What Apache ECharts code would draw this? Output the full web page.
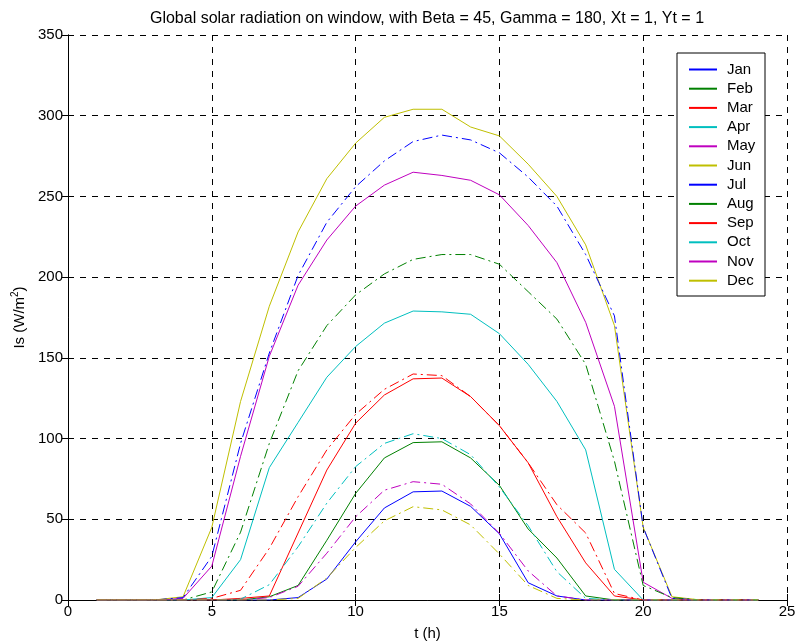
<!DOCTYPE html>
<html>
<head>
<meta charset="utf-8">
<script src="https://cdn.jsdelivr.net/npm/echarts@6/dist/echarts.min.js"></script>
<style>html,body{margin:0;padding:0;background:#fff}#c{width:795px;height:643px}</style>
</head>
<body>
<div id="c"></div>
<script>
var hours = [1,2,3,4,5,6,7,8,9,10,11,12,13,14,15,16,17,18,19,20,21,22,23,24];
var months = ['Jan','Feb','Mar','Apr','May','Jun','Jul','Aug','Sep','Oct','Nov','Dec'];
var Jan = [0,0,0,0,0,0,0,1.5,13,36,57,67,67.5,58,41,10.7,2.5,0,0,0,0,0,0,0];
var Feb = [0,0,0,0,0,0,2,9,37,66,88,97.5,98,88,71,44,26,2.5,0,0,0,0,0,0];
var Mar = [0,0,0,0,0,1,2.5,41.5,80.5,109.5,127,137,137.5,126,108,85,51.6,23,2.5,0,0,0,0,0];
var Apr = [0,0,0,0,1.5,25,82,110,138,157,171.5,179,178.5,177,165,146,123,93,19,0,0,0,0,0];
var May = [0,0,0,1,21,89,151,195,223,244,257,265,263,260,251,232,209,172,120,11,1,0,0,0];
var Jun = [0,0,0,2,45,123,182,228,261,283,299,304,304,293,287.5,270,250,220,170,45,2,0,0,0];
var Jul = [0,0,0,1.5,27,97,153,201,234,256,272,284,288,285,277,262,244,214,176,45,1,0,0,0];
var Aug = [0,0,0,0,5,42,97,142,170,189,202,211,214,214,208,191,174,146,86,9,1.5,0,0,0];
var Sep = [0,0,0,0,1,6,32,64,93,115,130.5,140,139,126,108,85,59,41.5,4,0,0,0,0,0];
var Oct = [0,0,0,0,0,0.5,9.5,33,60,82.6,97,103,100,90,70,46,17.5,1,0,0,0,0,0,0];
var Nov = [0,0,0,0,0,0,1.5,8.5,29,51.5,68,73.3,71.7,59.5,41.3,18,2.5,0,0,0,0,0,0,0];
var Dec = [0,0,0,0,0,0,0,1,13.6,32.5,49,57.8,55.8,46.5,28.5,9,1,0,0,0,0,0,0,0];
var values = [Jan,Feb,Mar,Apr,May,Jun,Jul,Aug,Sep,Oct,Nov,Dec];
var xTicks = [0,5,10,15,20,25];
var yTicks = [0,50,100,150,200,250,300,350];

var colors = ['#0000ff','#008000','#ff0000','#00bfbf','#bf00bf','#bfbf00'];
var FONT = 'Liberation Sans, Arial, sans-serif';

var series = months.map(function(m, i){
  return {
    name: m, type: 'line', showSymbol: false, symbol: 'none', animation: false,
    data: hours.map(function(h, k){ return [h, values[i][k]]; }),
    lineStyle: { color: colors[i % 6], width: 1, type: i < 6 ? 'solid' : [10,4,2,4] },
    itemStyle: { color: colors[i % 6] }
  };
});

var gridLine = { show: true, lineStyle: { color: '#000', type: [6,6], width: 1 } };
var axisLine = { show: true, lineStyle: { color: '#000', width: 1 } };
var tick = { show: true, inside: true, length: 6, lineStyle: { color: '#000' } };

var chart = echarts.init(document.getElementById('c'));
chart.setOption({
  animation: false,
  backgroundColor: '#fff',
  title: {
    text: 'Global solar radiation on window, with Beta = 45, Gamma = 180, Xt = 1, Yt = 1',
    left: 422, top: 6, textAlign: 'center',
    textStyle: { fontFamily: FONT, fontSize: 16, fontWeight: 'normal', color: '#000' }
  },
  grid: { left: 68, right: 8, top: 35, bottom: 43, containLabel: false, outerBoundsMode: 'none' },
  xAxis: [{
    type: 'value', min: 0, max: 25, interval: 5,
    axisLine: axisLine, axisTick: tick, splitLine: gridLine,
    axisLabel: { color: '#000', fontFamily: FONT, fontSize: 15, margin: 4 },
    name: 't (h)', nameLocation: 'middle', nameGap: 26,
    nameTextStyle: { color: '#000', fontFamily: FONT, fontSize: 15 }
  }, {
    type: 'value', position: 'top', min: 0, max: 25, interval: 5,
    axisLine: axisLine, axisTick: tick, splitLine: { show: false }, axisLabel: { show: false }
  }],
  yAxis: [{
    type: 'value', min: 0, max: 350, interval: 50,
    axisLine: axisLine, axisTick: tick, splitLine: gridLine,
    axisLabel: { color: '#000', fontFamily: FONT, fontSize: 15, margin: 5 },
    name: '{a|Is (W/m}{b|2}{a|)}', nameLocation: 'middle', nameGap: 37, nameRotate: 90,
    nameTextStyle: {
      color: '#000', fontFamily: FONT, fontSize: 15,
      rich: {
        a: { fontFamily: FONT, fontSize: 15, color: '#000' },
        b: { fontFamily: FONT, fontSize: 10, color: '#000', padding: [0,0,8,0] }
      }
    }
  }, {
    type: 'value', position: 'right', min: 0, max: 350, interval: 50,
    axisLine: axisLine, axisTick: tick, splitLine: { show: false }, axisLabel: { show: false }
  }],
  legend: {
    orient: 'vertical', left: 688, top: 62, padding: 0,
    itemWidth: 28, itemHeight: 14, itemGap: 4.2,
    itemStyle: { opacity: 0 },
    data: months.map(function(m){ return { name: m, lineStyle: { type: 'solid' } }; }),
    textStyle: { fontFamily: FONT, fontSize: 15, lineHeight: 15, color: '#000', padding: [0,0,0,5] }
  },
  graphic: [{
    type: 'rect', z: 3, shape: { x: 677, y: 53, width: 88, height: 243 },
    style: { fill: '#fff', stroke: '#000', lineWidth: 1 }
  }],
  series: series
});
</script>
</body>
</html>
